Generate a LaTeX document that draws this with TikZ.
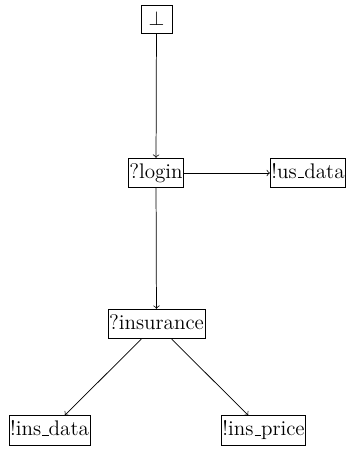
\documentclass[tikz,border=0pt]{standalone}
\newcommand{\usc}{\leavevmode\kern.06em\vbox{\hrule width.3em}}
\begin{document}
\begin{tikzpicture}[x=0.54pt,y=-0.54pt,
  st/.style={draw,rectangle,font=\fontsize{11.4pt}{13.5pt}\selectfont,
    inner xsep=0.6pt,inner ysep=3pt,text height=7.8pt,text depth=2.2pt},
  edge/.style={->}]
\useasboundingbox (0,0) rectangle (346,450);
\node[st,minimum width=16.7pt,text depth=1.2pt] (bot) at (156.5,19) {$\bot$};
\node[st] (login) at (156,173) {?login};
\node[st] (usdata) at (308,173) {!us\usc data};
\node[st] (ins) at (156.5,324) {?insurance};
\node[st] (insdata) at (49.5,430.5) {!ins\usc data};
\node[st] (insprice) at (263.5,430.5) {!ins\usc price};
\draw[edge] (bot) -- (login);
\draw[edge] (login) -- (usdata);
\draw[edge] (login) -- (ins);
\draw[edge] (ins) -- (insdata);
\draw[edge] (ins) -- (insprice);
\end{tikzpicture}
\end{document}
